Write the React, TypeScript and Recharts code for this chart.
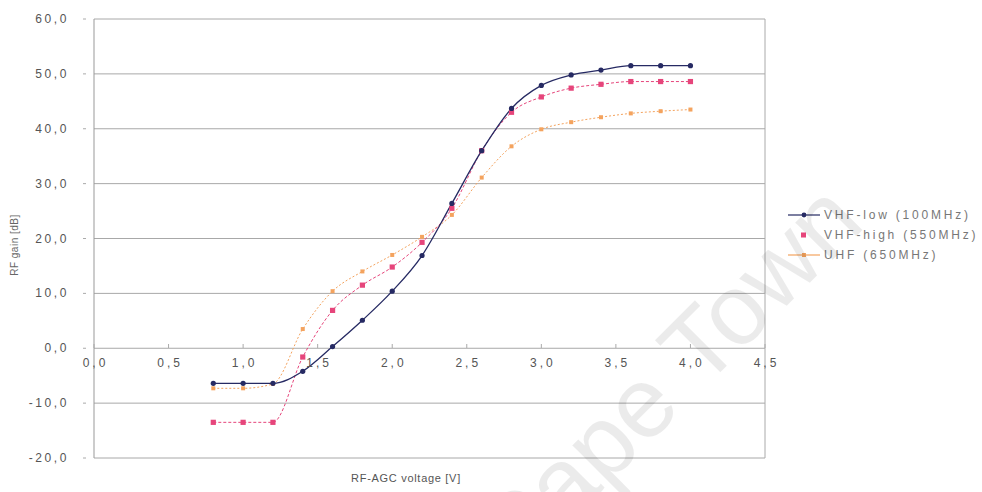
import {
  LineChart,
  Line,
  XAxis,
  YAxis,
  CartesianGrid,
  ReferenceLine,
  Legend,
} from 'recharts';

// RF-AGC voltage [V]
const VOLTAGE = [0.8, 1.0, 1.2, 1.4, 1.6, 1.8, 2.0, 2.2, 2.4, 2.6, 2.8, 3.0, 3.2, 3.4, 3.6, 3.8, 4.0];
// RF gain [dB]
const VHF_LOW = [-6.4, -6.4, -6.4, -4.2, 0.3, 5.1, 10.4, 16.9, 26.4, 36.0, 43.7, 47.9, 49.8, 50.7, 51.5, 51.5, 51.5];
const VHF_HIGH = [-13.5, -13.5, -13.5, -1.6, 6.9, 11.5, 14.8, 19.3, 25.5, 36.0, 43.0, 45.8, 47.4, 48.1, 48.6, 48.6, 48.6];
const UHF = [-7.3, -7.3, -6.5, 3.5, 10.4, 14.0, 17.0, 20.3, 24.3, 31.1, 36.8, 39.9, 41.2, 42.1, 42.8, 43.2, 43.5];

const X_TICKS = [0, 0.5, 1.0, 1.5, 2.0, 2.5, 3.0, 3.5, 4.0, 4.5];
const Y_TICKS = [-20, -10, 0, 10, 20, 30, 40, 50, 60];

const SERIES = [
  { key: 'low', name: 'VHF-low (100MHz)', color: '#262a63' },
  { key: 'high', name: 'VHF-high (550MHz)', color: '#e6457b' },
  { key: 'uhf', name: 'UHF (650MHz)', color: '#f4a35e' },
];

const chartData = VOLTAGE.map((v, i) => ({
  v,
  low: VHF_LOW[i],
  high: VHF_HIGH[i],
  uhf: UHF[i],
}));

const FONT = '"Liberation Sans", Arial, sans-serif';
const ZERO_Y = 348; // pixel row of the 0 dB line, x labels sit under it

const fmt = (n: number) => n.toFixed(1).replace('.', ',');

function XTick({ x, payload }: any) {
  return (
    <g>
      <line x1={x} x2={x} y1={ZERO_Y - 4} y2={ZERO_Y} stroke="#aaa" />
      <text x={x + 1.5} y={ZERO_Y + 19} textAnchor="middle" fontSize={12} letterSpacing={3} fill="#555" fontFamily={FONT}>
        {fmt(payload.value)}
      </text>
    </g>
  );
}

function YTick({ x, y, payload }: any) {
  return (
    <g>
      <line x1={x - 3} x2={x} y1={y} y2={y} stroke="#aaa" />
      <text x={x - 17} y={y + 4} textAnchor="end" fontSize={12} letterSpacing={2.6} fill="#555" fontFamily={FONT}>
        {fmt(payload.value)}
      </text>
    </g>
  );
}

const NavyDot = ({ cx, cy }: any) => <circle cx={cx} cy={cy} r={2.6} fill="#262a63" />;
const PinkDot = ({ cx, cy }: any) => <rect x={cx - 2.6} y={cy - 2.6} width={5.2} height={5.2} fill="#e6457b" />;
const OrangeDot = ({ cx, cy }: any) => <rect x={cx - 2} y={cy - 2} width={4} height={4} fill="#f4a35e" />;

function LegendBox() {
  return (
    <div style={{ fontFamily: FONT, fontSize: 12, letterSpacing: 2.8, color: '#777' }}>
      {SERIES.map((s, i) => (
        <div key={s.key} style={{ display: 'flex', alignItems: 'center', height: 20 }}>
          <svg width={36} height={10} style={{ marginRight: 2 }}>
            {i !== 1 && <line x1={2} x2={34} y1={5} y2={5} stroke={s.color} strokeWidth={1.2} />}
            {i === 0 && <circle cx={18} cy={5} r={2.4} fill={s.color} />}
            {i === 1 && <rect x={15} y={2.5} width={5} height={5} fill={s.color} />}
            {i === 2 && <rect x={16} y={3} width={4} height={4} fill={s.color} />}
          </svg>
          <span>{s.name}</span>
        </div>
      ))}
    </div>
  );
}

export default function App() {
  return (
    <div style={{ position: 'absolute', left: 0, top: 0, width: 982, height: 492, background: '#fff' }}>
      <LineChart width={982} height={492} data={chartData} margin={{ top: 19, right: 217, bottom: 14, left: 0 }}>
        <CartesianGrid vertical={false} stroke="#a8a8a8" />
        <XAxis
          dataKey="v"
          type="number"
          domain={[0, 4.5]}
          ticks={X_TICKS}
          axisLine={false}
          tickLine={false}
          height={20}
          tick={<XTick />}
        />
        <YAxis
          type="number"
          domain={[-20, 60]}
          ticks={Y_TICKS}
          width={94}
          axisLine={{ stroke: '#999' }}
          tickLine={false}
          tick={<YTick />}
        />
        <ReferenceLine x={4.5} stroke="#aaa" />
        <Legend
          layout="vertical"
          align="center"
          verticalAlign="middle"
          content={() => <LegendBox />}
          wrapperStyle={{ left: 786, top: 205, width: 196 }}
        />
        <Line
          type="monotone"
          dataKey="uhf"
          stroke="#f4a35e"
          strokeWidth={1}
          strokeDasharray="2 2"
          dot={<OrangeDot />}
          isAnimationActive={false}
        />
        <Line
          type="monotone"
          dataKey="high"
          stroke="#e6457b"
          strokeWidth={1}
          strokeDasharray="3 2"
          dot={<PinkDot />}
          isAnimationActive={false}
        />
        <Line
          type="monotone"
          dataKey="low"
          stroke="#262a63"
          strokeWidth={1.3}
          dot={<NavyDot />}
          isAnimationActive={false}
        />
      </LineChart>
      <svg width={982} height={492} style={{ position: 'absolute', left: 0, top: 0, pointerEvents: 'none' }}>
        <text x={18} y={245} transform="rotate(-90 18 245)" textAnchor="middle" fontSize={10} letterSpacing={0.5} fill="#666" fontFamily={FONT}>
          RF gain [dB]
        </text>
        <text x={406} y={482} textAnchor="middle" fontSize={11} letterSpacing={0.7} fill="#555" fontFamily={FONT}>
          RF-AGC voltage [V]
        </text>
        <text
          x={666}
          y={377}
          transform="rotate(-45 666 377)"
          textAnchor="middle"
          dominantBaseline="central"
          fontSize={100}
          fill="rgba(0,0,0,0.08)"
          fontFamily={FONT}
        >
          Cape Town
        </text>
      </svg>
    </div>
  );
}
